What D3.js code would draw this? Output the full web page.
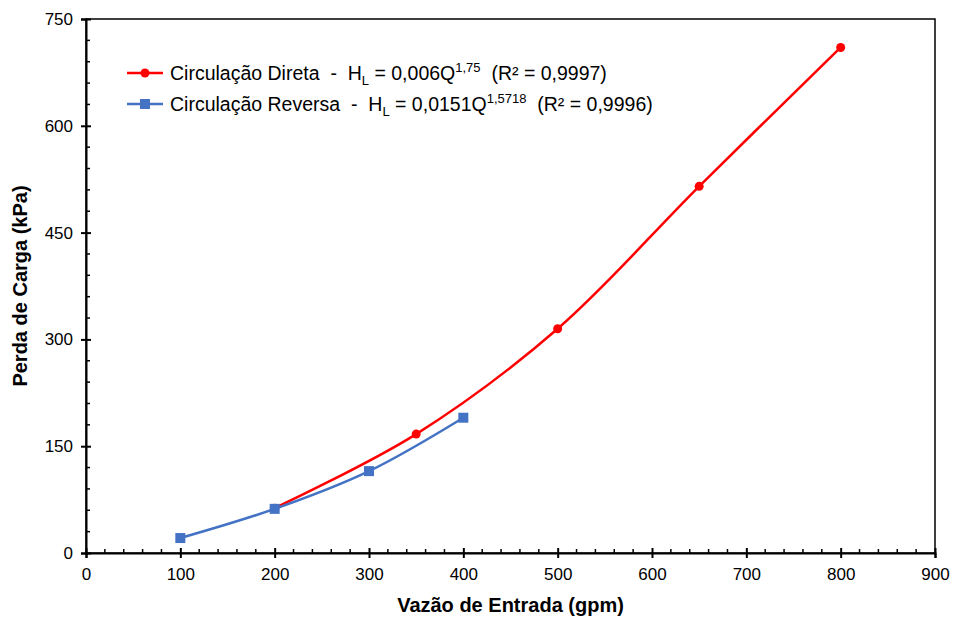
<!DOCTYPE html>
<html lang="pt">
  <head>
    <meta charset="UTF-8" />
    <title>Perda de Carga</title>
    <script src="https://d3js.org/d3.v7.min.js"></script>
    <style>
      body { margin: 0; background: #fff; }
      svg text { font-family: "Liberation Sans", Arial, sans-serif; fill: #000; }
    </style>
  </head>
  <body>
    <svg width="954" height="617"></svg>
    <script>
      // data
      let diretaQ = [200, 350, 500, 650, 800];
      let diretaH = [63, 167, 315, 515, 710];
      let reversaQ = [100, 200, 300, 400];
      let reversaH = [21, 62, 115, 190];
      let xTicks = [0, 100, 200, 300, 400, 500, 600, 700, 800, 900];
      let yTicks = [0, 150, 300, 450, 600, 750];

      let margin = { left: 86, right: 19, top: 19, bottom: 64 },
        width = 954,
        height = 617;

      let svg = d3.select("svg");

      let x = d3.scaleLinear().domain([0, 900]).range([margin.left, width - margin.right]);
      let y = d3.scaleLinear().domain([0, 750]).range([height - margin.bottom, margin.top]);

      // frame
      svg
        .append("rect")
        .attr("x", x(0))
        .attr("y", y(750))
        .attr("width", x(900) - x(0))
        .attr("height", y(0) - y(750))
        .attr("fill", "none")
        .attr("stroke", "#000")
        .attr("stroke-width", 1.5);

      // minor ticks (inside)
      let xMinor = d3.range(0, 901, 20).filter((v) => v % 100 != 0);
      svg
        .append("g")
        .selectAll("line")
        .data(xMinor)
        .enter()
        .append("line")
        .attr("x1", (d) => x(d))
        .attr("x2", (d) => x(d))
        .attr("y1", y(0))
        .attr("y2", y(0) - 4)
        .attr("stroke", "#000")
        .attr("stroke-width", 1.5);

      let yMinor = d3.range(0, 751, 30).filter((v) => v % 150 != 0);
      svg
        .append("g")
        .selectAll("line")
        .data(yMinor)
        .enter()
        .append("line")
        .attr("x1", x(0))
        .attr("x2", x(0) + 4)
        .attr("y1", (d) => y(d))
        .attr("y2", (d) => y(d))
        .attr("stroke", "#000")
        .attr("stroke-width", 1.5);

      // x axis
      let xAxis = svg
        .append("g")
        .attr("transform", "translate(0," + y(0) + ")")
        .call(d3.axisBottom(x).tickValues(xTicks).tickSize(5).tickPadding(10));
      xAxis.select(".domain").attr("stroke-width", 2);
      xAxis.selectAll(".tick line").attr("y1", -5).attr("stroke-width", 2);
      xAxis.selectAll("text").attr("font-size", 17).attr("fill", "#000");

      // y axis
      let yAxis = svg
        .append("g")
        .attr("transform", "translate(" + x(0) + ",0)")
        .call(d3.axisLeft(y).tickValues(yTicks).tickSize(5).tickPadding(8));
      yAxis.select(".domain").attr("stroke-width", 2);
      yAxis.selectAll(".tick line").attr("x1", 5).attr("stroke-width", 2);
      yAxis.selectAll("text").attr("font-size", 17).attr("fill", "#000");

      // axis titles
      svg
        .append("text")
        .attr("x", (x(0) + x(900)) / 2)
        .attr("y", 612)
        .attr("text-anchor", "middle")
        .attr("font-size", 20)
        .attr("font-weight", "bold")
        .text("Vazão de Entrada (gpm)");

      svg
        .append("text")
        .attr("transform", "translate(27," + (y(0) + y(750)) / 2 + ") rotate(-90)")
        .attr("text-anchor", "middle")
        .attr("font-size", 20)
        .attr("font-weight", "bold")
        .text("Perda de Carga (kPa)");

      let line = d3
        .line()
        .x((d) => x(d[0]))
        .y((d) => y(d[1]))
        .curve(d3.curveCatmullRom);

      let diretaPts = diretaQ.map((q, i) => [q, diretaH[i]]);
      let reversaPts = reversaQ.map((q, i) => [q, reversaH[i]]);

      svg
        .append("path")
        .datum(diretaPts)
        .attr("d", line)
        .attr("fill", "none")
        .attr("stroke", "#ff0000")
        .attr("stroke-width", 2.5);

      svg
        .append("g")
        .selectAll("circle")
        .data(diretaPts)
        .enter()
        .append("circle")
        .attr("cx", (d) => x(d[0]))
        .attr("cy", (d) => y(d[1]))
        .attr("r", 4.5)
        .attr("fill", "#ff0000");

      svg
        .append("path")
        .datum(reversaPts)
        .attr("d", line)
        .attr("fill", "none")
        .attr("stroke", "#4472c4")
        .attr("stroke-width", 2.5);

      svg
        .append("g")
        .selectAll("rect")
        .data(reversaPts)
        .enter()
        .append("rect")
        .attr("x", (d) => x(d[0]) - 5)
        .attr("y", (d) => y(d[1]) - 5)
        .attr("width", 10)
        .attr("height", 10)
        .attr("fill", "#4472c4");

      // legend
      let legend = [
        { color: "#ff0000", shape: "circle", name: "Circulação Direta", coef: "0,006", exp: "1,75", r2: "0,9997" },
        { color: "#4472c4", shape: "square", name: "Circulação Reversa", coef: "0,0151", exp: "1,5718", r2: "0,9996" },
      ];

      let lg = svg
        .append("g")
        .selectAll("g")
        .data(legend)
        .enter()
        .append("g")
        .attr("transform", (d, i) => "translate(127," + (73 + i * 31) + ")");

      lg.append("line")
        .attr("x1", 0)
        .attr("x2", 36)
        .attr("stroke", (d) => d.color)
        .attr("stroke-width", 2.5);

      lg.filter((d) => d.shape == "circle")
        .append("circle")
        .attr("cx", 18)
        .attr("r", 4.5)
        .attr("fill", (d) => d.color);

      lg.filter((d) => d.shape == "square")
        .append("rect")
        .attr("x", 13)
        .attr("y", -5)
        .attr("width", 10)
        .attr("height", 10)
        .attr("fill", (d) => d.color);

      let t = lg
        .append("text")
        .attr("x", 43)
        .attr("y", 7)
        .attr("font-size", 19.5)
        .attr("xml:space", "preserve");
      t.append("tspan").text((d) => d.name + "  -  H");
      t.append("tspan").attr("dy", 5).attr("font-size", 13).text("L");
      t.append("tspan").attr("dy", -5).text((d) => " = " + d.coef + "Q");
      t.append("tspan").attr("dy", -8).attr("font-size", 13).text((d) => d.exp);
      t.append("tspan").attr("dy", 8).text((d) => "  (R² = " + d.r2 + ")");
    </script>
  </body>
</html>
